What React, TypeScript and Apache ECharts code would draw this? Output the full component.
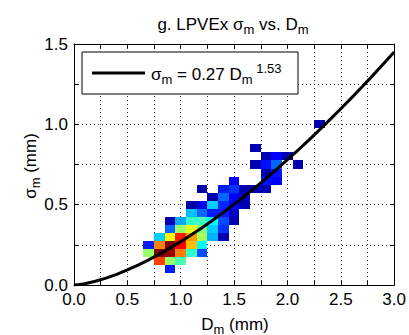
import React, { useEffect, useRef } from 'react';
import * as echarts from 'echarts';

// Axis ranges / ticks
const xMin = 0, xMax = 3, yMin = 0, yMax = 1.5, tickStep = 0.25;

// 2-D histogram bins: [Dm centre (mm), σm centre (mm), colour level 0..8 (jet)]
const binWidthD = 0.1;
const binHeightSigma = 0.05;
const cells: [number, number, number][] = [
  [0.9, 0.10, 1.2],
  [0.8, 0.15, 6.5], [0.9, 0.15, 4.2], [1.0, 0.15, 3.6],
  [0.7, 0.20, 4.2], [0.8, 0.20, 8.0], [0.9, 0.20, 7.8], [1.0, 0.20, 6.0], [1.1, 0.20, 3.4], [1.2, 0.20, 1.6],
  [0.7, 0.25, 1.2], [0.8, 0.25, 6.0], [0.9, 0.25, 8.0], [1.0, 0.25, 7.0], [1.1, 0.25, 5.5], [1.2, 0.25, 3.0],
  [0.8, 0.30, 2.6], [0.9, 0.30, 5.0], [1.0, 0.30, 6.8], [1.1, 0.30, 5.8], [1.2, 0.30, 4.3], [1.3, 0.30, 2.4], [1.4, 0.30, 0.3],
  [0.9, 0.35, 1.8], [1.0, 0.35, 4.2], [1.1, 0.35, 4.8], [1.2, 0.35, 4.0], [1.3, 0.35, 2.6], [1.4, 0.35, 1.4],
  [0.9, 0.40, 0.3], [1.0, 0.40, 2.3], [1.1, 0.40, 3.4], [1.2, 0.40, 3.5], [1.3, 0.40, 3.0], [1.4, 0.40, 1.6], [1.5, 0.40, 0.3],
  [1.1, 0.45, 2.5], [1.2, 0.45, 1.8], [1.3, 0.45, 1.2], [1.4, 0.45, 1.2], [1.5, 0.45, 0.5],
  [1.1, 0.50, 0.2], [1.2, 0.50, 0.8], [1.3, 0.50, 2.6], [1.4, 0.50, 1.3], [1.5, 0.50, 1.0], [1.6, 0.50, 0.3],
  [1.3, 0.55, 0.3], [1.4, 0.55, 1.8], [1.5, 0.55, 1.0], [1.6, 0.55, 0.4],
  [1.2, 0.60, 0.2], [1.4, 0.60, 1.2], [1.5, 0.60, 1.4], [1.6, 0.60, 0.3], [1.7, 0.60, 0.3], [1.8, 0.60, 0.3],
  [1.5, 0.65, 1.0], [1.8, 0.65, 1.1], [1.9, 0.65, 1.0],
  [1.8, 0.70, 0.3], [1.9, 0.70, 1.1],
  [1.7, 0.75, 0.3], [1.8, 0.75, 1.1], [1.9, 0.75, 1.8], [2.1, 0.75, 0.3],
  [1.8, 0.80, 0.3], [1.9, 0.80, 1.0], [2.0, 0.80, 0.3],
  [1.7, 0.85, 0.3],
  [2.3, 1.00, 0.3],
];

// Fitted power-law curve σm = 0.27 Dm^1.53 (points along the curve)
const fitD = [0, 0.05, 0.1, 0.2, 0.3, 0.4, 0.5, 0.6, 0.7, 0.8, 0.9, 1.0, 1.1, 1.2, 1.3, 1.4, 1.5, 1.6, 1.7, 1.8, 1.9, 2.0, 2.1, 2.2, 2.3, 2.4, 2.5, 2.6, 2.7, 2.8, 2.9, 3.0];
const fitSigma = [0, 0.0028, 0.008, 0.023, 0.0428, 0.0665, 0.0935, 0.1236, 0.1564, 0.1919, 0.2298, 0.27, 0.3124, 0.3569, 0.4034, 0.4518, 0.5021, 0.5542, 0.6081, 0.6636, 0.7209, 0.7797, 0.8401, 0.9022, 0.9656, 1.0306, 1.097, 1.1649, 1.2341, 1.3048, 1.3766, 1.45];
const fitCoef = '0.27';
const fitExp = '1.53';

const jet = ['#00008F', '#0000FF', '#0080FF', '#00FFFF', '#80FF80', '#FFFF00', '#FF8000', '#FF0000', '#800000'];

const FONT = '"Liberation Sans", Arial, Helvetica, sans-serif';
const TXT = '#000';

const rich = {
  a: { fontSize: 17, fontFamily: FONT, color: TXT, lineHeight: 19 },
  s: { fontSize: 13, fontFamily: FONT, color: TXT, lineHeight: 13, padding: [10, 0, 0, 0] },
  p: { fontSize: 13, fontFamily: FONT, color: TXT, lineHeight: 13, padding: [0, 0, 12, 0] },
};

const labelFmt = (v: number) => (Math.abs(v * 2 - Math.round(v * 2)) < 1e-6 ? v.toFixed(1) : '');

function makeAxis(min: number, max: number, pos: string, main: boolean) {
  return {
    type: 'value',
    min,
    max,
    interval: tickStep,
    position: pos,
    axisLine: { show: true, onZero: false, lineStyle: { color: '#000', width: 1 } },
    axisTick: { show: true, inside: true, length: 4, lineStyle: { color: '#000', width: 1 } },
    axisLabel: main
      ? { show: true, color: TXT, fontSize: 17, fontFamily: FONT, margin: 6, formatter: labelFmt }
      : { show: false },
    splitLine: main ? { show: true, lineStyle: { color: '#333', width: 1, type: [1, 3] } } : { show: false },
  };
}

export default function App() {
  const ref = useRef<HTMLDivElement>(null);
  useEffect(() => {
    if (!ref.current) return;
    const chart = echarts.init(ref.current, undefined, { renderer: 'svg' });
    const option: any = {
      animation: false,
      backgroundColor: '#fff',
      grid: { left: 74, right: 13, top: 44, bottom: 50, show: false },
      xAxis: [makeAxis(xMin, xMax, 'bottom', true), makeAxis(xMin, xMax, 'top', false)],
      yAxis: [makeAxis(yMin, yMax, 'left', true), makeAxis(yMin, yMax, 'right', false)],
      visualMap: {
        show: false,
        type: 'continuous',
        min: 0,
        max: 8,
        dimension: 2,
        seriesIndex: 0,
        inRange: { color: jet },
      },
      series: [
        {
          type: 'custom',
          xAxisIndex: 0,
          yAxisIndex: 0,
          data: cells,
          encode: { x: 0, y: 1 },
          clip: true,
          z: 2,
          renderItem: (params: any, api: any) => {
            const d = api.value(0);
            const s = api.value(1);
            const p0 = api.coord([d - binWidthD / 2, s + binHeightSigma / 2]);
            const p1 = api.coord([d + binWidthD / 2, s - binHeightSigma / 2]);
            const x0 = Math.round(p0[0]);
            const y0 = Math.round(p0[1]);
            const x1 = Math.round(p1[0]);
            const y1 = Math.round(p1[1]);
            return {
              type: 'rect',
              shape: { x: x0, y: y0, width: x1 - x0, height: y1 - y0 },
              style: { fill: api.visual('color') },
            };
          },
        },
        {
          type: 'line',
          xAxisIndex: 0,
          yAxisIndex: 0,
          data: fitD.map((d, i) => [d, fitSigma[i]]),
          showSymbol: false,
          smooth: false,
          clip: true,
          z: 3,
          lineStyle: { color: '#000', width: 3 },
        },
      ],
      graphic: [
        {
          type: 'text',
          x: 233,
          y: 24,
          z: 100,
          style: {
            text: '{a|g. LPVEx }{a|σ}{s|m}{a| vs. D}{s|m}',
            rich,
            align: 'center',
            verticalAlign: 'middle',
          },
        },
        {
          type: 'text',
          x: 235,
          y: 324,
          z: 100,
          style: {
            text: '{a|D}{s|m}{a| (mm)}',
            rich,
            align: 'center',
            verticalAlign: 'middle',
          },
        },
        {
          type: 'text',
          x: 30,
          y: 166,
          rotation: Math.PI / 2,
          z: 100,
          style: {
            text: '{a|σ}{s|m}{a| (mm)}',
            rich,
            align: 'center',
            verticalAlign: 'middle',
          },
        },
        {
          type: 'rect',
          z: 100,
          shape: { x: 82, y: 52, width: 216, height: 42 },
          style: { fill: '#fff', stroke: '#000', lineWidth: 1 },
        },
        {
          type: 'line',
          z: 101,
          shape: { x1: 92, y1: 73, x2: 145, y2: 73 },
          style: { stroke: '#000', lineWidth: 3 },
        },
        {
          type: 'text',
          x: 151,
          y: 74,
          z: 101,
          style: {
            text: `{a|σ}{s|m}{a| = ${fitCoef} D}{s|m}{p| ${fitExp}}`,
            rich,
            align: 'left',
            verticalAlign: 'middle',
          },
        },
      ],
    };
    chart.setOption(option);
    return () => chart.dispose();
  }, []);
  return <div ref={ref} style={{ position: 'absolute', left: 0, top: 0, width: 409, height: 335 }} />;
}
